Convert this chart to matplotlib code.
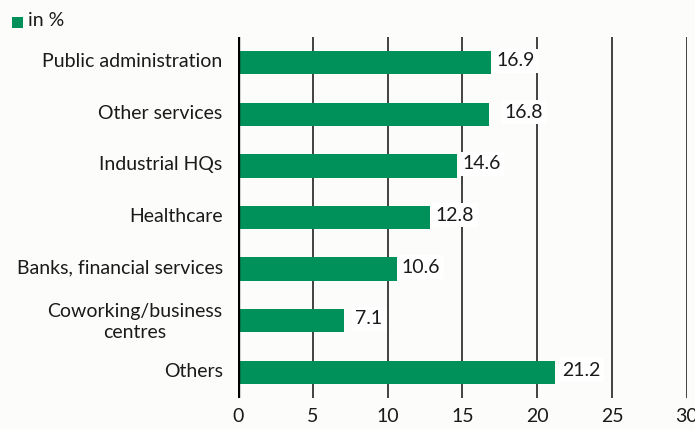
import matplotlib
matplotlib.use("Agg")
import matplotlib.pyplot as plt
from matplotlib.patches import Rectangle

categories = ["Public administration", "Other services", "Industrial HQs", "Healthcare",
              "Banks, financial services", "Coworking/business\ncentres", "Others"]
values = [16.9, 16.8, 14.6, 12.8, 10.6, 7.1, 21.2]
label_nudge = [0.4, 1.0, 0.4, 0.4, 0.35, 0.75, 0.45]
xticks = [0, 5, 10, 15, 20, 25, 30]

GREEN = "#009059"
BG = "#fcfcfa"
plt.rcParams['font.family'] = ['Lato', 'DejaVu Sans']

fig = plt.figure(figsize=(6.95, 4.30), dpi=100, facecolor=BG)
ax = fig.add_axes([238/695, 1-398/430, (687-238)/695, (398-37)/430])
ax.set_facecolor(BG)

y = list(range(len(categories)))
ax.barh(y, values, height=0.45, color=GREEN, zorder=2)
for yi, v, n in zip(y, values, label_nudge):
    ax.text(v + n, yi - 0.04, f"{v:.1f}", va="center", ha="left", fontsize=14, color="#1a1a1a",
            zorder=4, bbox=dict(facecolor="white", edgecolor="none", pad=2.5))

for xt in xticks[1:]:
    ax.axvline(xt, color="#222222", lw=1.2, zorder=1)
ax.axvline(0, color="black", lw=2.4, zorder=3)

ax.set_xlim(0, 30)
ax.set_ylim(6.5, -0.5)
ax.set_xticks(xticks)
ax.set_xticklabels([str(t) for t in xticks], fontsize=14, color="#1a1a1a")
ax.set_yticks([yi - 0.05 for yi in y])
ax.set_yticklabels(categories, fontsize=14, color="#1a1a1a", multialignment="center",
                   linespacing=1.35)
ax.tick_params(axis="both", length=0)
ax.tick_params(axis="y", pad=11)
ax.tick_params(axis="x", pad=7)
for s in ax.spines.values():
    s.set_visible(False)

fig.patches.append(Rectangle((12/695, 1-28/430), 11/695, 11/430, transform=fig.transFigure,
                             facecolor=GREEN, edgecolor="none"))
fig.text(28/695, 1-21/430, "in %", fontsize=14, va="center", ha="left", color="#1a1a1a")

fig.savefig("out.png", dpi=100, facecolor=BG)
